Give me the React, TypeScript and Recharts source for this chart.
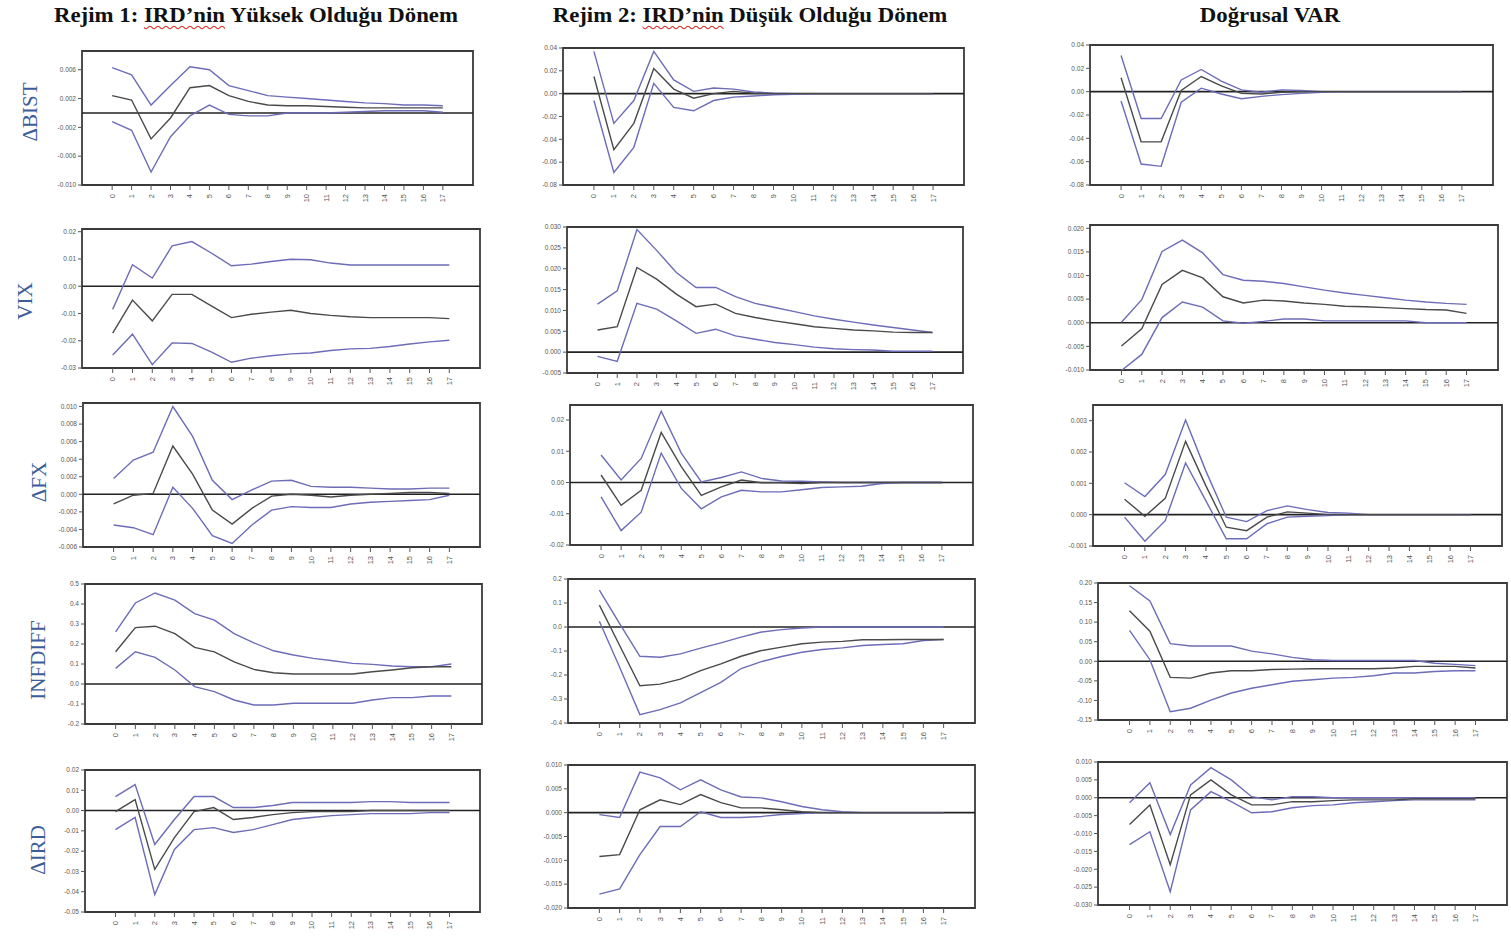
import React from 'react';
import { LineChart, Line, XAxis, YAxis, ReferenceLine, ReferenceArea } from 'recharts';

// ---------- DATA ----------
const HORIZON = [0, 1, 2, 3, 4, 5, 6, 7, 8, 9, 10, 11, 12, 13, 14, 15, 16, 17];

const ROW_LABELS = ['ΔBIST', 'VIX', 'ΔFX', 'INFDIFF', 'ΔIRD'];

// Row 1: ΔBIST
const bistR1Hi = [0.0063, 0.0053, 0.0011, 0.0038, 0.0064, 0.006, 0.0038, 0.0031, 0.0024, 0.0022, 0.002, 0.0018, 0.0016, 0.0014, 0.0013, 0.0011, 0.0011, 0.001];
const bistR1Mid = [0.0024, 0.0018, -0.0036, -0.0007, 0.0035, 0.0038, 0.0024, 0.0016, 0.0011, 0.001, 0.001, 0.0009, 0.0008, 0.0007, 0.0007, 0.0007, 0.0007, 0.0007];
const bistR1Lo = [-0.0012, -0.0024, -0.0082, -0.0033, -0.0004, 0.0011, -0.0002, -0.0004, -0.0004, 0, 0, 0, 0.0001, 0.0002, 0.0003, 0.0003, 0.0003, 0.0001];
const bistR1Ticks = [-0.01, -0.006, -0.002, 0.002, 0.006];

const bistR2Hi = [0.037, -0.026, -0.006, 0.037, 0.012, 0.002, 0.005, 0.004, 0.0015, 0.0005, 0, 0, 0, 0, 0, 0, 0, 0];
const bistR2Mid = [0.015, -0.049, -0.026, 0.022, 0.004, -0.004, 0, 0.002, 0.0005, 0, 0, 0, 0, 0, 0, 0, 0, 0];
const bistR2Lo = [-0.006, -0.069, -0.047, 0.009, -0.012, -0.015, -0.006, -0.003, -0.002, -0.001, -0.0005, 0, 0, 0, 0, 0, 0, 0];
const bistR2Ticks = [-0.08, -0.06, -0.04, -0.02, 0, 0.02, 0.04];

const bistLinHi = [0.031, -0.023, -0.023, 0.01, 0.019, 0.009, 0.0015, -0.0005, 0.0015, 0.001, 0, 0, 0, 0, 0, 0, 0, 0];
const bistLinMid = [0.012, -0.043, -0.043, 0.001, 0.013, 0.005, -0.0015, -0.002, -0.0005, 0, 0, 0, 0, 0, 0, 0, 0, 0];
const bistLinLo = [-0.008, -0.062, -0.064, -0.009, 0.003, -0.002, -0.006, -0.004, -0.0025, -0.0015, -0.0005, 0, 0, 0, 0, 0, 0, 0];
const bistLinTicks = [-0.08, -0.06, -0.04, -0.02, 0, 0.02, 0.04];

// Row 2: VIX
const vixR1Hi = [-0.0085, 0.0079, 0.003, 0.0148, 0.0164, 0.0121, 0.0075, 0.0081, 0.0091, 0.0099, 0.0097, 0.0085, 0.0078, 0.0078, 0.0078, 0.0078, 0.0078, 0.0078];
const vixR1Mid = [-0.0172, -0.0051, -0.0127, -0.003, -0.003, -0.0073, -0.0115, -0.0103, -0.0095, -0.0088, -0.01, -0.0107, -0.0112, -0.0115, -0.0115, -0.0115, -0.0115, -0.0119];
const vixR1Lo = [-0.0252, -0.0176, -0.0288, -0.0208, -0.021, -0.0242, -0.0279, -0.0264, -0.0255, -0.0248, -0.0245, -0.0236, -0.023, -0.0228, -0.0221, -0.0212, -0.0204, -0.0198];
const vixR1Ticks = [-0.03, -0.02, -0.01, 0, 0.01, 0.02];

const vixR2Hi = [0.0115, 0.0147, 0.0294, 0.0244, 0.0191, 0.0155, 0.0155, 0.0133, 0.0117, 0.0107, 0.0097, 0.0087, 0.0079, 0.0072, 0.0065, 0.0059, 0.0053, 0.0047];
const vixR2Mid = [0.0053, 0.0061, 0.0203, 0.0175, 0.0139, 0.0109, 0.0115, 0.0093, 0.0083, 0.0075, 0.0068, 0.0061, 0.0057, 0.0053, 0.0051, 0.0048, 0.0047, 0.0047];
const vixR2Lo = [-0.001, -0.0022, 0.0117, 0.0103, 0.0075, 0.0045, 0.0055, 0.0039, 0.0031, 0.0023, 0.0018, 0.0012, 0.0008, 0.0006, 0.0005, 0.0002, 0.0002, 0.0002];
const vixR2Ticks = [-0.005, 0, 0.005, 0.01, 0.015, 0.02, 0.025, 0.03];

const vixLinHi = [0.0001, 0.0049, 0.0151, 0.0175, 0.0148, 0.0102, 0.009, 0.0088, 0.0083, 0.0076, 0.0069, 0.0063, 0.0058, 0.0053, 0.0048, 0.0044, 0.0041, 0.0039];
const vixLinMid = [-0.0049, -0.0013, 0.0081, 0.0111, 0.0095, 0.0055, 0.0042, 0.0048, 0.0046, 0.0042, 0.0039, 0.0035, 0.0034, 0.0032, 0.003, 0.0028, 0.0027, 0.002];
const vixLinLo = [-0.0101, -0.0067, 0.0011, 0.0044, 0.0033, 0.0004, -0.0001, 0.0003, 0.0008, 0.0008, 0.0004, 0.0004, 0.0004, 0.0004, 0.0004, 0, 0, 0];
const vixLinTicks = [-0.01, -0.005, 0, 0.005, 0.01, 0.015, 0.02];

// Row 3: ΔFX
const fxR1Hi = [0.0018, 0.0039, 0.0048, 0.01, 0.0066, 0.0016, -0.0006, 0.0005, 0.0015, 0.0016, 0.0009, 0.0008, 0.0008, 0.0007, 0.0006, 0.0006, 0.0007, 0.0007];
const fxR1Mid = [-0.0011, -0.0001, 0.0001, 0.0055, 0.0023, -0.0018, -0.0034, -0.0016, -0.0002, 0, -0.0001, -0.0003, -0.0001, 0, 0.0001, 0.0002, 0.0002, 0.0001];
const fxR1Lo = [-0.0035, -0.0038, -0.0046, 0.0008, -0.0016, -0.0047, -0.0056, -0.0035, -0.0018, -0.0014, -0.0015, -0.0015, -0.0011, -0.0009, -0.0008, -0.0007, -0.0006, -0.0001];
const fxR1Ticks = [-0.006, -0.004, -0.002, 0, 0.002, 0.004, 0.006, 0.008, 0.01];

const fxR2Hi = [0.0088, 0.0008, 0.0077, 0.0228, 0.0094, 0.0002, 0.0016, 0.0034, 0.0013, 0.0005, 0.0004, 0.0002, 0, 0, 0, 0, 0, 0];
const fxR2Mid = [0.0024, -0.0073, -0.0025, 0.016, 0.0051, -0.0041, -0.0014, 0.0008, -0.0001, -0.0001, -0.0003, 0, 0, 0, 0, 0, 0, 0];
const fxR2Lo = [-0.0046, -0.0154, -0.0095, 0.0094, -0.0019, -0.0084, -0.0046, -0.0025, -0.003, -0.003, -0.0023, -0.0016, -0.0014, -0.0012, -0.0003, 0, 0, 0];
const fxR2Ticks = [-0.02, -0.01, 0, 0.01, 0.02];

const fxLinHi = [0.00102, 0.00058, 0.00128, 0.00302, 0.00139, -0.00008, -0.00022, 0.00013, 0.00028, 0.00016, 0.00007, 0.00005, 0, 0, 0, 0, 0, 0];
const fxLinMid = [0.00049, -0.00005, 0.00052, 0.00234, 0.00092, -0.0004, -0.00051, -0.00008, 0.00009, 0.00005, 0, 0, 0, 0, 0, 0, 0, 0];
const fxLinLo = [-0.00008, -0.00085, -0.00019, 0.00165, 0.00044, -0.00077, -0.00077, -0.00029, -0.00008, -0.00005, -0.00003, 0, 0, 0, 0, 0, 0, 0];
const fxLinTicks = [-0.001, 0, 0.001, 0.002, 0.003];

// Row 4: INFDIFF
const infR1Hi = [0.261, 0.405, 0.455, 0.419, 0.352, 0.319, 0.252, 0.206, 0.166, 0.145, 0.128, 0.116, 0.103, 0.098, 0.09, 0.086, 0.086, 0.1];
const infR1Mid = [0.161, 0.282, 0.289, 0.252, 0.183, 0.161, 0.111, 0.073, 0.056, 0.05, 0.05, 0.05, 0.05, 0.061, 0.07, 0.081, 0.086, 0.086];
const infR1Lo = [0.078, 0.161, 0.133, 0.07, -0.013, -0.038, -0.08, -0.105, -0.105, -0.096, -0.096, -0.096, -0.096, -0.08, -0.068, -0.068, -0.06, -0.06];
const infR1Ticks = [-0.2, -0.1, 0, 0.1, 0.2, 0.3, 0.4, 0.5];

const infR2Hi = [0.154, 0.014, -0.122, -0.126, -0.112, -0.088, -0.066, -0.042, -0.021, -0.011, -0.004, 0, 0, 0, 0, 0, 0, 0];
const infR2Mid = [0.091, -0.077, -0.245, -0.238, -0.217, -0.182, -0.154, -0.122, -0.098, -0.084, -0.07, -0.063, -0.06, -0.053, -0.053, -0.052, -0.052, -0.052];
const infR2Lo = [0.024, -0.168, -0.365, -0.344, -0.316, -0.273, -0.231, -0.173, -0.144, -0.123, -0.105, -0.094, -0.087, -0.077, -0.073, -0.07, -0.056, -0.052];
const infR2Ticks = [-0.4, -0.3, -0.2, -0.1, 0, 0.1, 0.2];

const infLinHi = [0.193, 0.154, 0.045, 0.039, 0.039, 0.039, 0.026, 0.019, 0.01, 0.004, 0.002, 0.002, 0.002, 0.002, 0.002, -0.005, -0.008, -0.011];
const infLinMid = [0.129, 0.077, -0.041, -0.043, -0.03, -0.024, -0.024, -0.021, -0.02, -0.019, -0.019, -0.019, -0.019, -0.017, -0.013, -0.013, -0.013, -0.017];
const infLinLo = [0.079, 0.004, -0.129, -0.12, -0.099, -0.081, -0.069, -0.06, -0.051, -0.047, -0.043, -0.041, -0.037, -0.03, -0.03, -0.026, -0.024, -0.024];
const infLinTicks = [-0.15, -0.1, -0.05, 0, 0.05, 0.1, 0.15, 0.2];

// Row 5: ΔIRD
const irdR1Hi = [0.0069, 0.0128, -0.0167, -0.0044, 0.0069, 0.0069, 0.0015, 0.0015, 0.0025, 0.004, 0.004, 0.004, 0.004, 0.0044, 0.0044, 0.004, 0.004, 0.004];
const irdR1Mid = [-0.0005, 0.0054, -0.029, -0.0133, -0.0005, 0.0015, -0.0044, -0.0034, -0.002, -0.001, -0.0005, -0.0005, -0.0005, 0, 0, 0, 0, 0];
const irdR1Lo = [-0.0094, -0.0034, -0.0414, -0.0192, -0.0094, -0.0084, -0.0108, -0.0094, -0.0069, -0.0044, -0.0034, -0.0025, -0.002, -0.0015, -0.0015, -0.0015, -0.001, -0.001];
const irdR1Ticks = [-0.05, -0.04, -0.03, -0.02, -0.01, 0, 0.01, 0.02];

const irdR2Hi = [-0.0004, -0.001, 0.0085, 0.0073, 0.0048, 0.0069, 0.0048, 0.0033, 0.0031, 0.0023, 0.0013, 0.0006, 0.0002, 0, 0, 0, 0, 0];
const irdR2Mid = [-0.0092, -0.0088, 0.0006, 0.0027, 0.0017, 0.0038, 0.0021, 0.001, 0.001, 0.0006, 0.0002, 0, 0, 0, 0, 0, 0, 0];
const irdR2Lo = [-0.0171, -0.016, -0.0088, -0.0029, -0.0029, 0.0002, -0.001, -0.001, -0.0008, -0.0004, -0.0002, 0, 0, 0, 0, 0, 0, 0];
const irdR2Ticks = [-0.02, -0.015, -0.01, -0.005, 0, 0.005, 0.01];

const irdLinHi = [-0.0014, 0.0042, -0.0103, 0.0036, 0.0084, 0.005, 0.0003, -0.0006, 0.0003, 0.0003, 0, 0, 0, 0, 0, 0, 0, 0];
const irdLinMid = [-0.0075, -0.002, -0.0187, 0.0008, 0.005, 0.0008, -0.002, -0.002, -0.0011, -0.0011, -0.0008, -0.0006, -0.0006, -0.0006, -0.0003, -0.0003, -0.0003, -0.0003];
const irdLinLo = [-0.0131, -0.0095, -0.0263, -0.0034, 0.0017, -0.0011, -0.0042, -0.0039, -0.0028, -0.0022, -0.002, -0.0014, -0.0011, -0.0008, -0.0006, -0.0006, -0.0006, -0.0006];
const irdLinTicks = [-0.03, -0.025, -0.02, -0.015, -0.01, -0.005, 0, 0.005, 0.01];

// ---------- LAYOUT (positions / styles) ----------
type Frame = { x: number; y: number; w: number; h: number };
type Spec = {
  frame: Frame;
  domain: [number, number];
  ticks: number[];
  digits: number;
  lo: number[];
  mid: number[];
  hi: number[];
};

const PANELS: Spec[] = [
  { frame: { x: 82, y: 51, w: 391, h: 134 }, domain: [-0.01, 0.0086], ticks: bistR1Ticks, digits: 3, lo: bistR1Lo, mid: bistR1Mid, hi: bistR1Hi },
  { frame: { x: 563, y: 48, w: 401, h: 137 }, domain: [-0.08, 0.04], ticks: bistR2Ticks, digits: 2, lo: bistR2Lo, mid: bistR2Mid, hi: bistR2Hi },
  { frame: { x: 1090, y: 45, w: 403, h: 140 }, domain: [-0.08, 0.04], ticks: bistLinTicks, digits: 2, lo: bistLinLo, mid: bistLinMid, hi: bistLinHi },

  { frame: { x: 82, y: 229, w: 398, h: 139 }, domain: [-0.03, 0.021], ticks: vixR1Ticks, digits: 2, lo: vixR1Lo, mid: vixR1Mid, hi: vixR1Hi },
  { frame: { x: 567, y: 227, w: 396, h: 146 }, domain: [-0.005, 0.03], ticks: vixR2Ticks, digits: 3, lo: vixR2Lo, mid: vixR2Mid, hi: vixR2Hi },
  { frame: { x: 1090, y: 225, w: 408, h: 145 }, domain: [-0.01, 0.0207], ticks: vixLinTicks, digits: 3, lo: vixLinLo, mid: vixLinMid, hi: vixLinHi },

  { frame: { x: 83, y: 403, w: 397, h: 144 }, domain: [-0.006, 0.0104], ticks: fxR1Ticks, digits: 3, lo: fxR1Lo, mid: fxR1Mid, hi: fxR1Hi },
  { frame: { x: 570, y: 405, w: 403, h: 140 }, domain: [-0.02, 0.0248], ticks: fxR2Ticks, digits: 2, lo: fxR2Lo, mid: fxR2Mid, hi: fxR2Hi },
  { frame: { x: 1093, y: 405, w: 409, h: 141 }, domain: [-0.001, 0.0035], ticks: fxLinTicks, digits: 3, lo: fxLinLo, mid: fxLinMid, hi: fxLinHi },

  { frame: { x: 85, y: 584, w: 397, h: 140 }, domain: [-0.2, 0.5], ticks: infR1Ticks, digits: 1, lo: infR1Lo, mid: infR1Mid, hi: infR1Hi },
  { frame: { x: 568, y: 579, w: 407, h: 144 }, domain: [-0.4, 0.2], ticks: infR2Ticks, digits: 1, lo: infR2Lo, mid: infR2Mid, hi: infR2Hi },
  { frame: { x: 1098, y: 583, w: 409, h: 137 }, domain: [-0.15, 0.2], ticks: infLinTicks, digits: 2, lo: infLinLo, mid: infLinMid, hi: infLinHi },

  { frame: { x: 85, y: 770, w: 395, h: 142 }, domain: [-0.05, 0.02], ticks: irdR1Ticks, digits: 2, lo: irdR1Lo, mid: irdR1Mid, hi: irdR1Hi },
  { frame: { x: 568, y: 765, w: 407, h: 143 }, domain: [-0.02, 0.01], ticks: irdR2Ticks, digits: 3, lo: irdR2Lo, mid: irdR2Mid, hi: irdR2Hi },
  { frame: { x: 1098, y: 762, w: 409, h: 143 }, domain: [-0.03, 0.01], ticks: irdLinTicks, digits: 3, lo: irdLinLo, mid: irdLinMid, hi: irdLinHi },
];

const ROW_LABEL_POS = [
  { cx: 30, cy: 112 },
  { cx: 25, cy: 301 },
  { cx: 39, cy: 482 },
  { cx: 38, cy: 660 },
  { cx: 38, cy: 850 },
];

const BAND = '#6c6cb8';
const MID = '#4a4a4a';
const X_DOMAIN: [number, number] = [-1.55, 18.55];

const ML = 34;
const MT = 6;
const MR = 6;
const MB = 26;

const XTick = (props: any) => {
  const { x, y, payload } = props;
  return (
    <g transform={`translate(${x},${y + 2})`}>
      <text
        x={0}
        y={0}
        dy={2.5}
        transform="rotate(-90)"
        textAnchor="end"
        fontSize={7.5}
        fill="#555"
        fontFamily="Liberation Sans, Arial, sans-serif"
      >
        {payload.value}
      </text>
    </g>
  );
};

function Panel({ spec }: { spec: Spec }) {
  const { frame, domain, ticks, digits } = spec;
  const data = HORIZON.map((h, i) => ({ h, lo: spec.lo[i], mid: spec.mid[i], hi: spec.hi[i] }));
  return (
    <div style={{ position: 'absolute', left: frame.x - ML, top: frame.y - MT }}>
      <LineChart
        width={frame.w + ML + MR}
        height={frame.h + MT + MB}
        data={data}
        margin={{ top: MT, right: MR, bottom: 0, left: 0 }}
      >
        <XAxis
          type="number"
          dataKey="h"
          domain={X_DOMAIN}
          ticks={HORIZON}
          interval={0}
          allowDataOverflow
          height={MB}
          tickSize={5}
          axisLine={false}
          tickLine={{ stroke: '#555', strokeWidth: 1 }}
          tick={XTick}
        />
        <YAxis
          type="number"
          domain={domain}
          ticks={ticks}
          interval={0}
          allowDataOverflow
          width={ML}
          tickSize={4}
          axisLine={false}
          tickLine={{ stroke: '#555', strokeWidth: 1 }}
          tick={{ fontSize: 6.5, fill: '#555', fontFamily: 'Liberation Sans, Arial, sans-serif' }}
          tickFormatter={(v: number) => v.toFixed(digits)}
        />
        <ReferenceLine y={0} stroke="#222" strokeWidth={1.6} ifOverflow="extendDomain" />
        <Line type="linear" dataKey="hi" stroke={BAND} strokeWidth={1.4} dot={false} isAnimationActive={false} />
        <Line type="linear" dataKey="lo" stroke={BAND} strokeWidth={1.4} dot={false} isAnimationActive={false} />
        <Line type="linear" dataKey="mid" stroke={MID} strokeWidth={1.4} dot={false} isAnimationActive={false} />
        <ReferenceArea
          x1={X_DOMAIN[0]}
          x2={X_DOMAIN[1]}
          y1={domain[0]}
          y2={domain[1]}
          fill="none"
          fillOpacity={0}
          stroke="#3a3a3a"
          strokeWidth={1.8}
          ifOverflow="visible"
        />
      </LineChart>
    </div>
  );
}

const wavy: React.CSSProperties = {
  textDecorationLine: 'underline',
  textDecorationStyle: 'wavy',
  textDecorationColor: '#e02020',
  textDecorationThickness: '1px',
  textUnderlineOffset: '3px',
};

const titleStyle: React.CSSProperties = {
  position: 'absolute',
  top: 5,
  fontFamily: '"Liberation Serif", "Times New Roman", serif',
  fontWeight: 'bold',
  fontSize: 20,
  lineHeight: '20px',
  color: '#111',
  whiteSpace: 'nowrap',
  transform: 'translateX(-50%) scaleX(1.14)',
};

export default function App() {
  return (
    <div style={{ position: 'absolute', left: 0, top: 0, width: 1511, height: 937, background: '#fff', overflow: 'hidden' }}>
      <div style={{ ...titleStyle, left: 256 }}>
        Rejim 1: <span style={wavy}>IRD’nin</span> Yüksek Olduğu Dönem
      </div>
      <div style={{ ...titleStyle, left: 750 }}>
        Rejim 2: <span style={wavy}>IRD’nin</span> Düşük Olduğu Dönem
      </div>
      <div style={{ ...titleStyle, left: 1270 }}>Doğrusal VAR</div>

      {ROW_LABELS.map((lab, i) => (
        <div
          key={lab}
          style={{
            position: 'absolute',
            left: ROW_LABEL_POS[i].cx,
            top: ROW_LABEL_POS[i].cy,
            transform: 'translate(-50%, -50%) rotate(-90deg)',
            fontFamily: '"Liberation Serif", "Times New Roman", serif',
            fontSize: 21,
            color: '#3d5d9a',
            whiteSpace: 'nowrap',
          }}
        >
          {lab}
        </div>
      ))}

      {PANELS.map((p, i) => (
        <Panel key={i} spec={p} />
      ))}
    </div>
  );
}
